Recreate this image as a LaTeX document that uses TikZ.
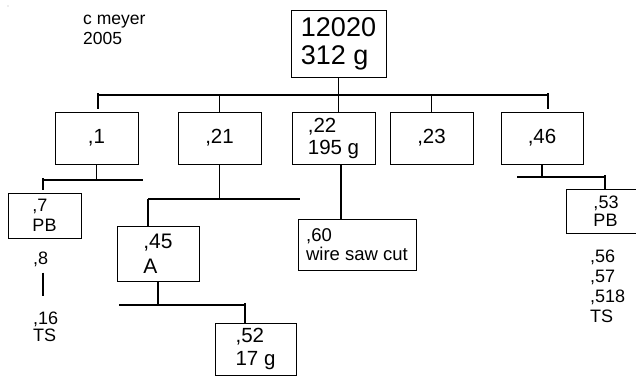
\documentclass[tikz,border=0pt]{standalone}
\usepackage{fontspec}
\setmainfont{Liberation Sans}
\begin{document}
\begin{tikzpicture}[x=1pt,y=-1pt,
  box/.style={draw,line width=1pt,inner sep=0pt,align=left},
  conn/.style={line width=1.4pt},
  lbl/.style={inner sep=0pt,anchor=west,align=left},
  fbig/.style={font=\fontsize{27}{28}\selectfont},
  fmid/.style={font=\fontsize{20.5}{22}\selectfont},
  fsma/.style={font=\fontsize{18}{20}\selectfont}]
\useasboundingbox (0,0) rectangle (636,375);
\clip (0,0) rectangle (636,375);
\fill[gray!60] (8,6) circle (0.6);
% title
\node[lbl,font=\fontsize{17.5}{20}\selectfont] (cm) at (83,29.4) {c meyer\\2005};
% root
\node[box,fbig,minimum width=95pt,minimum height=67pt] (root) at (338.5,43.5) {12020\\312 g};
% level 1
\node[box,fmid,minimum width=83pt,minimum height=52pt] (n1) at (96.5,138) {,1};
\node[box,fmid,minimum width=83pt,minimum height=52pt] (n21) at (219.5,138) {,21};
\node[box,fmid,minimum width=83pt,minimum height=52pt] (n22) at (333.5,138) {,22\\195 g};
\node[box,fmid,minimum width=83pt,minimum height=52pt] (n23) at (431.5,138) {,23};
\node[box,fmid,minimum width=82pt,minimum height=52pt] (n46) at (542,138) {,46};
% level 2
\node[box,fsma,minimum width=73pt,minimum height=45pt] (n7) at (44.5,215.5) {,7\\PB};
\node[box,font=\fontsize{21}{25}\selectfont,minimum width=82pt,minimum height=55pt] (n45) at (158,253.5) {,45\\A};
\node[box,font=\fontsize{18.5}{19}\selectfont,minimum width=118pt,minimum height=51pt] (n60) at (357,244.5) {,60\\wire saw cut};
\node[box,font=\fontsize{20.5}{23}\selectfont,minimum width=81pt,minimum height=52pt] (n52) at (255.5,349) {,52\\17 g};
\node[box,font=\fontsize{18}{18}\selectfont,minimum width=79pt,minimum height=44pt] (n53) at (606,211.5) {,53\\PB};
% plain labels
\node[lbl,fsma] (n8) at (33,259) {,8};
\node[lbl,font=\fontsize{18}{17}\selectfont] (n16) at (33,327) {,16\\TS};
\node[lbl,fsma] (n56) at (590,286.6) {,56\\,57\\,518\\TS};
% bus coordinates
\coordinate (busL) at (98,95);
\coordinate (busR) at (548,95);
\coordinate (b1L) at (43,180);
\coordinate (b1R) at (143,180);
\coordinate (b2L) at (148,199);
\coordinate (b2R) at (300,199);
\coordinate (b3L) at (119,305);
\coordinate (b3R) at (245,305);
\coordinate (b4L) at (517,177);
\coordinate (b4R) at (605,177);
% root to level 1
\draw[conn] (root.south) -- (root.south |- n22.north);
\draw[conn] (busL) -- (busR);
\draw[conn] ([yshift=2pt]busL) -- ([yshift=3pt]n1.north -| busL);
\draw[conn] (n21.north) -- (n21.north |- busL);
\draw[conn] (n23.north) -- (n23.north |- busL);
\draw[conn] ([yshift=2pt]busR) -- ([yshift=3pt]n46.north -| busR);
% under ,1
\draw[conn] (n1.south) -- (n1.south |- b1L);
\draw[conn] (b1L) -- (b1R);
\draw[conn] ([yshift=2pt]b1L) -- ([yshift=3pt]n7.north -| b1L);
\draw[conn] ([yshift=-6pt]n8.south -| b1L) -- ([yshift=16pt]n16.north -| b1L);
% under ,21
\draw[conn] (n21.south) -- (n21.south |- b2L);
\draw[conn] (b2L) -- (b2R);
\draw[conn] (b2L) -- (n45.north -| b2L);
% under ,45
\draw[conn] (n45.south) -- (n45.south |- b3L);
\draw[conn] (b3L) -- (b3R);
\draw[conn] ([yshift=2pt]b3R) -- (n52.north -| b3R);
% under ,22
\draw[conn] ([xshift=7.5pt]n22.south) -- ([xshift=7.5pt]n22.south |- n60.north);
% under ,46
\draw[conn] (n46.south) -- (n46.south |- b4L);
\draw[conn] (b4L) -- (b4R);
\draw[conn] ([yshift=2pt]b4R) -- (n53.north -| b4R);
\end{tikzpicture}
\end{document}
